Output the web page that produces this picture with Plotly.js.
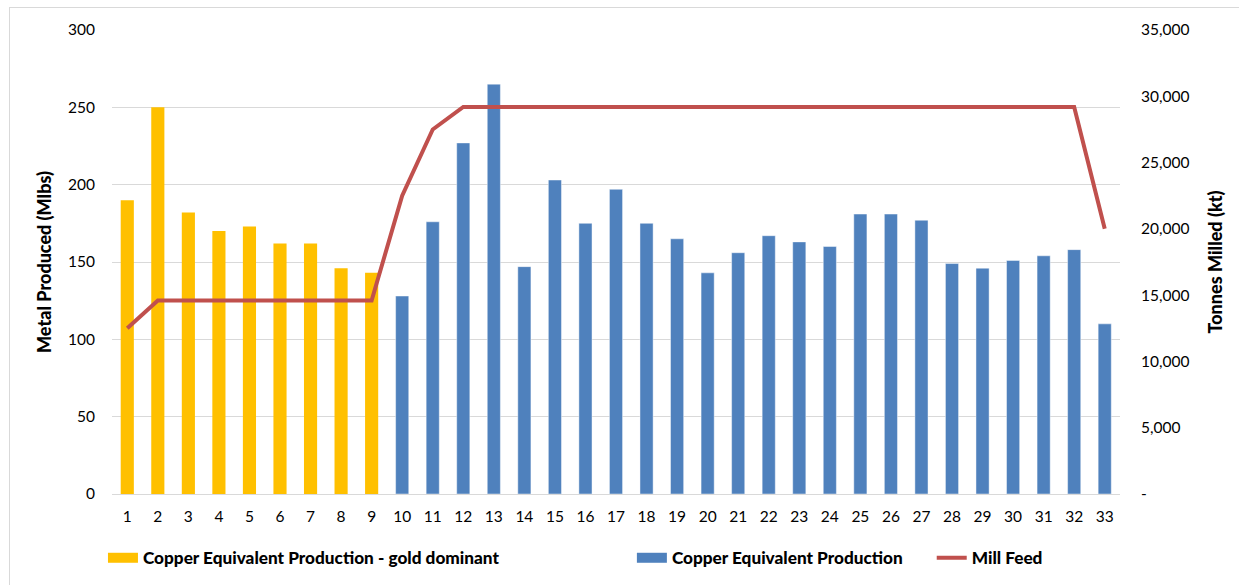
<!DOCTYPE html>
<html>
<head>
<meta charset="utf-8">
<script src="https://cdn.plot.ly/plotly-3.0.1.min.js"></script>
<style>
  html, body { margin: 0; padding: 0; background: #fff; }
  #frame { position: absolute; left: 9px; top: 7px; width: 1240px; height: 590px; border: 1px solid #d9d9d9; box-sizing: border-box; pointer-events: none; }
  #chart { width: 1239px; height: 585px; }
</style>
</head>
<body>
<div id="chart"></div>
<div id="frame"></div>
<script>
// Years 1..9 : gold dominant, 10..33 : copper
const goldYears = [1,2,3,4,5,6,7,8,9];
const goldValues = [190,250,182,170,173,162,162,146,143];
const copperYears = [10,11,12,13,14,15,16,17,18,19,20,21,22,23,24,25,26,27,28,29,30,31,32,33];
const copperValues = [128,176,227,265,147,203,175,197,175,165,143,156,167,163,160,181,181,177,149,146,151,154,158,110];
const millYears = [1,2,3,4,5,6,7,8,9,10,11,12,13,14,15,16,17,18,19,20,21,22,23,24,25,26,27,28,29,30,31,32,33];
const millFeed = [12500,14600,14600,14600,14600,14600,14600,14600,14600,22500,27500,29200,29200,29200,29200,29200,29200,29200,29200,29200,29200,29200,29200,29200,29200,29200,29200,29200,29200,29200,29200,29200,20000];
const leftTicks = [0,50,100,150,200,250,300];
const rightTicks = [0,5000,10000,15000,20000,25000,30000,35000];
const rightTickText = ["-","5,000","10,000","15,000","20,000","25,000","30,000","35,000"];
const xTicks = millYears;

const FONT = "Lato, 'Open Sans', sans-serif";
const GOLD = "#FFC000", BLUE = "#4F81BD", RED = "#C0504D";

const traces = [
  {type:"bar", x:goldYears, y:goldValues, marker:{color:GOLD, line:{width:0}}, width:0.43, showlegend:false},
  {type:"bar", x:copperYears, y:copperValues, marker:{color:BLUE, line:{color:"rgba(255,255,255,0.45)", width:1}}, width:0.43, showlegend:false},
  {type:"scatter", mode:"lines", x:millYears, y:millFeed, yaxis:"y2", line:{color:RED, width:4}, showlegend:false},
  // legend-only entries
  {type:"scatter", mode:"lines", x:[null], y:[null], name:"Copper Equivalent Production - gold dominant", line:{color:GOLD, width:12}, legend:"legend"},
  {type:"scatter", mode:"lines", x:[null], y:[null], name:"Copper Equivalent Production", line:{color:BLUE, width:12}, legend:"legend2"},
  {type:"scatter", mode:"lines", x:[null], y:[null], name:"Mill Feed", line:{color:RED, width:4}, legend:"legend3"}
];

const legendBase = {orientation:"h", xref:"container", yref:"container", yanchor:"middle", y:0.046, xanchor:"left",
  bgcolor:"rgba(0,0,0,0)", font:{family:FONT, size:17.2, color:"#000", weight:900}, itemwidth:30, tracegroupgap:0};

const layout = {
  width:1239, height:585,
  margin:{l:112, r:119, t:30, b:91},
  paper_bgcolor:"#fff", plot_bgcolor:"#fff",
  font:{family:FONT, size:15.5, color:"#000"},
  barmode:"overlay",
  showlegend:true,
  xaxis:{range:[0.5,33.5], tickvals:xTicks, ticktext:xTicks.map(String), showgrid:false, zeroline:false,
    showline:true, linecolor:"#d9d9d9", linewidth:1, ticks:"", ticklen:0, ticklabelstandoff:8, fixedrange:true},
  yaxis:{range:[0,300], tickvals:leftTicks, showgrid:true, gridcolor:"#d9d9d9", gridwidth:1, zeroline:false,
    showline:false, ticks:"", ticklabelstandoff:16,
    title:{text:"Metal Produced (Mlbs)", font:{family:FONT, size:18, weight:900}, standoff:11}},
  yaxis2:{range:[0,35000], overlaying:"y", side:"right", tickvals:rightTicks, ticktext:rightTickText,
    showgrid:false, zeroline:false, showline:false, ticks:"", ticklabelstandoff:20,
    title:{text:"Tonnes Milled (kt)", font:{family:FONT, size:18, weight:900}, standoff:20}},
  legend:Object.assign({}, legendBase, {x:0.0831}),
  legend2:Object.assign({}, legendBase, {x:0.510}),
  legend3:Object.assign({}, legendBase, {x:0.752})
};

Plotly.newPlot("chart", traces, layout, {displayModeBar:false, staticPlot:true});
</script>
</body>
</html>
